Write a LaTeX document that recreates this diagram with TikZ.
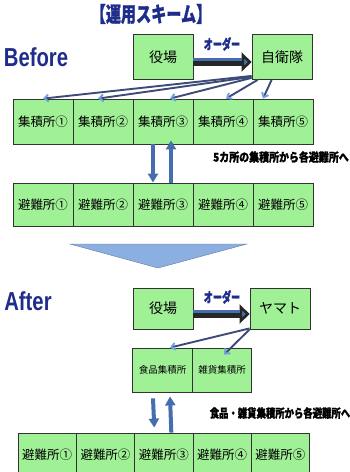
\documentclass[tikz,border=0pt]{standalone}
\usepackage{fontspec}
\setmainfont{Liberation Sans}
\newfontfamily\jp{Noto Sans CJK JP}
\newfontfamily\jpheavy{Noto Sans CJK JP}[FakeBold=1.2]
\usetikzlibrary{arrows.meta, positioning}

\definecolor{boxgreen}{RGB}{160,240,150}
\definecolor{navy}{RGB}{30,45,140}
\definecolor{arrowblue}{RGB}{70,110,175}
\definecolor{feedline}{RGB}{60,75,120}
\definecolor{tipblue}{RGB}{110,160,220}
\definecolor{trifill}{RGB}{140,175,225}

\begin{document}
\begin{tikzpicture}[
    x=1pt, y=-1pt,
    node distance=60pt,
    on grid,
    box/.style={draw=black!80, line width=0.8pt, fill=boxgreen, minimum width=60pt, minimum height=44pt, inner sep=0pt, font=\jp\fontsize{14}{14}\selectfont},
    cell/.style={box, minimum height=45pt, font=\jp\fontsize{12.5}{12.5}\selectfont},
    order/.style={line width=8pt, draw=black!85, -{Triangle[length=10pt,width=19pt,fill=arrowblue]}},
    feed/.style={line width=1.9pt, draw=feedline, -{Straight Barb[length=4pt,width=7pt,color=tipblue]}},
    supply/.style={line width=4pt, draw=arrowblue, -{Triangle[length=9pt,width=10pt]}},
    heading/.style={text=navy, font=\bfseries\fontsize{26}{26}\selectfont},
    note/.style={font=\jpheavy\bfseries\fontsize{12}{12}\selectfont},
    ordertext/.style={text=navy, font=\jpheavy\bfseries\fontsize{14}{14}\selectfont}
]
   \useasboundingbox (0,0) rectangle (350,472);
   \clip (0,0) rectangle (350,472);

   % Title
   \node[text=navy, font=\jpheavy\bfseries\fontsize{21}{21}\selectfont] (title) at (151,14) {\scalebox{0.72}[1]{【運用スキーム】}};

   % Before
   \node[heading] (before) at (36,57) {\scalebox{0.78}[1]{Before}};
   \node[box, minimum height=45pt] (yakuba1) at (163,57) {役場};
   \node[box, minimum height=45pt] (jieitai) [right=119pt of yakuba1] {自衛隊};

   \node[cell] (col1) at (43,121.5) {集積所①};
   \node[cell] (col2) [right=of col1] {集積所②};
   \node[cell] (col3) [right=of col2] {集積所③};
   \node[cell] (col4) [right=of col3] {集積所④};
   \node[cell] (col5) [right=of col4] {集積所⑤};

   \node[cell, minimum height=43pt] (ref1) at (43,204.5) {避難所①};
   \node[cell, minimum height=43pt] (ref2) [right=of ref1] {避難所②};
   \node[cell, minimum height=43pt] (ref3) [right=of ref2] {避難所③};
   \node[cell, minimum height=43pt] (ref4) [right=of ref3] {避難所④};
   \node[cell, minimum height=43pt] (ref5) [right=of ref4] {避難所⑤};

   \draw[order] ([yshift=-5pt]yakuba1.east) -- ([yshift=-5pt]jieitai.west);
   \draw[arrowblue, line width=3pt] ([yshift=-2.5pt]yakuba1.east) -- ([xshift=-10pt,yshift=-2.5pt]jieitai.west);
   \node[ordertext] (order1) at (222,44) {\scalebox{0.65}[1]{オーダー}};

   \draw[feed] ([yshift=4pt]jieitai.south west) -- (col1.north);
   \draw[feed] ([yshift=3pt]jieitai.south west) -- ([xshift=-5pt]col2.north);
   \draw[feed] ([yshift=2pt]jieitai.south west) -- ([xshift=7pt]col3.north);
   \draw[feed] ([xshift=6pt]jieitai.south west) -- ([xshift=3pt]col4.north);
   \draw[feed] ([xshift=20pt]jieitai.south west) -- ([xshift=-20pt]col5.north);

   \draw[supply] ([xshift=-10pt]col3.south) -- ([xshift=-10pt]ref3.north);
   \draw[supply] ([xshift=8pt]ref3.north) -- ([xshift=8pt,yshift=4pt]col3.south);
   \node[note] (note1) at (281,157) {\scalebox{0.83}[1]{5カ所の集積所から各避難所へ}};

   % Change
   \filldraw[fill=trifill, draw=trifill!70!black, line width=0.4pt] (70,244) -- (247,244) -- (158,268) -- cycle;

   % After
   \node[heading] (after) at (28,301) {\scalebox{0.78}[1]{After}};
   \node[box, minimum height=41pt] (yakuba2) at (163,308.5) {役場};
   \node[box, minimum height=41pt] (yamato) [right=117pt of yakuba2] {ヤマト};

   \node[cell, minimum width=59.5pt, minimum height=44pt, font=\jp\fontsize{9.5}{9.5}\selectfont] (food) at (162.5,370) {食品集積所};
   \node[cell, minimum width=59.5pt, minimum height=44pt, font=\jp\fontsize{9.5}{9.5}\selectfont] (goods) [right=59.5pt of food] {雑貨集積所};

   \node[cell, minimum width=58.3pt, minimum height=44pt] (refb1) at (47.2,455) {避難所①};
   \node[cell, minimum width=58.3pt, minimum height=44pt] (refb2) [right=58.3pt of refb1] {避難所②};
   \node[cell, minimum width=58.3pt, minimum height=44pt] (refb3) [right=58.3pt of refb2] {避難所③};
   \node[cell, minimum width=58.3pt, minimum height=44pt] (refb4) [right=58.3pt of refb3] {避難所④};
   \node[cell, minimum width=58.3pt, minimum height=44pt] (refb5) [right=58.3pt of refb4] {避難所⑤};

   \draw[order] ([yshift=-5.5pt]yakuba2.east) -- ([yshift=-5.5pt]yamato.west);
   \draw[arrowblue, line width=3pt] ([yshift=-3pt]yakuba2.east) -- ([xshift=-10pt,yshift=-3pt]yamato.west);
   \node[ordertext] (order2) at (222,297) {\scalebox{0.65}[1]{オーダー}};

   \draw[feed] ([yshift=1pt]yamato.south west) -- ([xshift=7.5pt]food.north);
   \draw[feed] ([xshift=0pt]yamato.south west) -- ([xshift=2pt,yshift=-7pt]goods.north);

   \draw[supply] ([xshift=-9.5pt,yshift=-6pt]food.south) -- ([xshift=-9.5pt,yshift=5pt]refb3.north);
   \draw[supply] ([xshift=7.5pt]refb3.north) -- ([xshift=7.5pt,yshift=-4pt]food.south);
   \node[note] (note2) at (280,413) {\scalebox{0.78}[1]{食品・雑貨集積所から各避難所へ}};

\end{tikzpicture}
\end{document}
